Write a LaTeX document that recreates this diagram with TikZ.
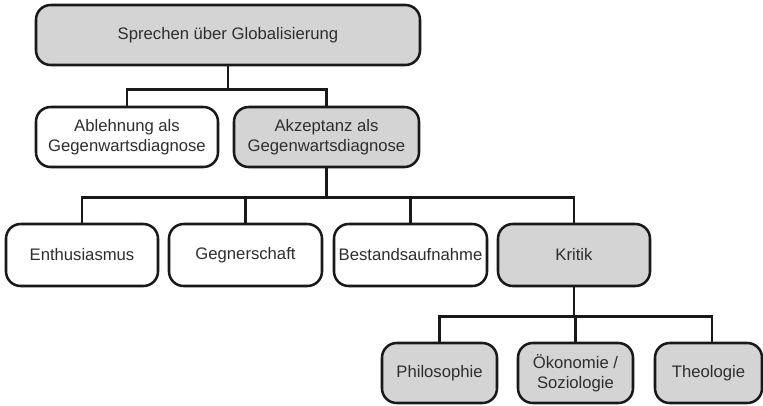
\documentclass[tikz,border=0pt]{standalone}
\usepackage{fontspec}
\setmainfont{Liberation Sans}
\begin{document}
\begin{tikzpicture}[x=0.75pt,y=-0.75pt,
  box/.style={draw=black!90, line width=1.9pt, rounded corners=11pt, fill=white,
    minimum height=45pt, inner sep=0pt, align=center, text=black!82,
    font=\fontsize{12.5}{15}\selectfont},
  graybox/.style={box, fill=black!17},
  conn/.style={draw=black!90, line width=1.9pt}]
\useasboundingbox (0,0) rectangle (763,405);
\fill[white] (0,0) rectangle (763,405);
% row 1
\node[graybox, minimum width=288pt] (top) at (228,35) {Sprechen über Globalisierung};
% row 2
\node[box, minimum width=136.5pt] (abl) at (127,137) {Ablehnung als\\Gegenwartsdiagnose};
\node[graybox, minimum width=138.75pt] (akz) at (326.5,137) {Akzeptanz als\\Gegenwartsdiagnose};
% row 3
\node[box, minimum width=114pt, minimum height=46.5pt] (enth) at (82,255) {Enthusiasmus};
\node[box, minimum width=114.75pt, minimum height=46.5pt] (gegn) at (245.5,255) {Gegnerschaft};
\node[box, minimum width=114.75pt, minimum height=46.5pt] (best) at (410.5,255) {Bestandsaufnahme};
\node[graybox, minimum width=114pt, minimum height=46.5pt] (krit) at (574,255) {Kritik};
% row 4
\node[graybox, minimum width=86.25pt] (phil) at (439.5,373) {Philosophie};
\node[graybox, minimum width=86.25pt] (oeko) at (575.5,373) {Ökonomie /\\Soziologie};
\node[graybox, minimum width=80.25pt] (theo) at (708.5,373) {Theologie};
% connectors
\draw[conn] (top.south) -- ++(0,23) -| (abl.north);
\draw[conn] (top.south) -- ++(0,23) -| (akz.north);
\foreach \n in {enth,gegn,best,krit}
  \draw[conn] (akz.south) -- ++(0,29) -| (\n.north);
\foreach \n in {phil,oeko}
  \draw[conn] (krit.south) -- ++(0,29) -| (\n.north);
\coordinate (theotop) at ([xshift=2.6pt]theo.north);
\draw[conn] (krit.south) -- ++(0,29) -| (theotop);
\end{tikzpicture}
\end{document}
